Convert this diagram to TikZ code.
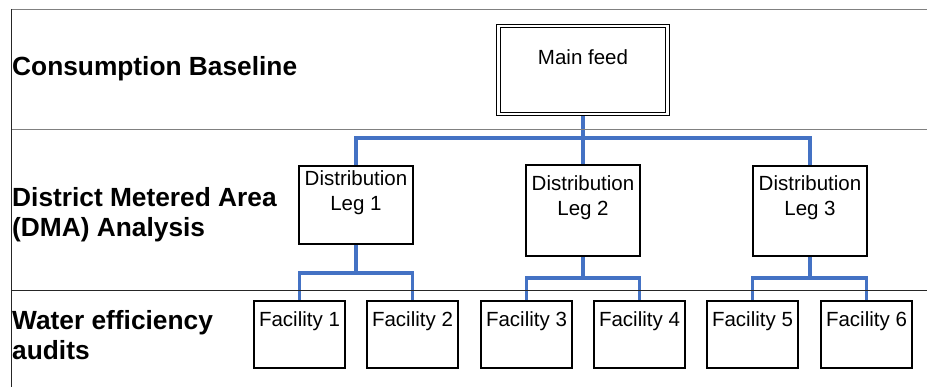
\documentclass[tikz,border=0pt]{standalone}
\usepackage{fontspec}
\setmainfont{Liberation Sans}
\usetikzlibrary{backgrounds}
\begin{document}
\begin{tikzpicture}[x=1pt,y=-1pt,
  box/.style={draw=black,line width=1.7pt,fill=white,inner sep=0pt,outer sep=0pt,anchor=north west},
  mainbox/.style={draw=black,line width=1.2pt,double=white,double distance=2.4pt,fill=white,inner sep=0pt,outer sep=0pt,anchor=north west},
  boxtext/.style={inner sep=0pt,align=center,font=\fontsize{20.5}{25}\selectfont},
  rowlabel/.style={inner sep=0pt,anchor=base west,align=left,font=\fontsize{26.3}{30.5}\selectfont\bfseries},
  rule/.style={line width=0.9pt},
  conn/.style={draw={rgb,255:red,68;green,114;blue,196},line width=3.3pt}
]
\useasboundingbox (0,0) rectangle (927,387);
% table rules
\coordinate (tl) at (11,9);
\coordinate (tr) at (927,9);
\coordinate (bl) at (11,387);
\coordinate (r1l) at (11,129);
\coordinate (r1r) at (927,129);
\coordinate (r2l) at (11,290);
\coordinate (r2r) at (927,290);
\draw[rule,draw=gray] (tl) -- (tr);
\draw[rule,draw=gray] (r1l) -- (r1r);
\draw[rule,draw=black!85] (r2l) -- (r2r);
\draw[rule,draw=black!85] (tl) -- (bl);

% row labels
\node[rowlabel] (lab1) at (12,76) {Consumption Baseline};
\node[rowlabel] (lab2) at (12,237) {District Metered Area\\(DMA) Analysis};
\node[rowlabel] (lab3) at (12,360) {Water efficiency\\audits};

% boxes
\node[mainbox,minimum width=169,minimum height=88] (main) at (498.5,26) {};
\node[box,minimum width=114,minimum height=78] (leg1) at (299,166) {};
\node[box,minimum width=114,minimum height=91] (leg2) at (526,165) {};
\node[box,minimum width=114,minimum height=90] (leg3) at (753,166) {};
\node[box,minimum width=91,minimum height=67] (f1) at (254,301) {};
\node[box,minimum width=91,minimum height=67] (f2) at (367,301) {};
\node[box,minimum width=91,minimum height=67] (f3) at (481,301) {};
\node[box,minimum width=91,minimum height=67] (f4) at (594,301) {};
\node[box,minimum width=91,minimum height=67] (f5) at (707,301) {};
\node[box,minimum width=91,minimum height=67] (f6) at (821,301) {};

% box texts
\node[boxtext] (tmain) at (583,57) {Main feed};
\node[boxtext] (tleg1) at (356,192.5) {Distribution\\Leg 1};
\node[boxtext] (tleg2) at (583,197.5) {Distribution\\Leg 2};
\node[boxtext] (tleg3) at (810,197.5) {Distribution\\Leg 3};
\node[boxtext] (tf1) at (299.5,321) {Facility 1};
\node[boxtext] (tf2) at (412.5,321) {Facility 2};
\node[boxtext] (tf3) at (526.5,321) {Facility 3};
\node[boxtext] (tf4) at (639.5,321) {Facility 4};
\node[boxtext] (tf5) at (752.5,321) {Facility 5};
\node[boxtext] (tf6) at (866.5,321) {Facility 6};

% connectors (behind the boxes)
\coordinate (bus0) at (583,138);
\coordinate (bus1) at (356,273);
\coordinate (bus2) at (583,278);
\coordinate (bus3) at (810,278);
\begin{scope}[on background layer]
\draw[conn] (main.south) -- (bus0) -| (leg1.north);
\draw[conn] (bus0) -| (leg3.north);
\draw[conn] (bus0) -- (leg2.north);
\draw[conn] (leg1.south) -- (bus1) -| (f1.north);
\draw[conn] (bus1) -| (f2.north);
\draw[conn] (leg2.south) -- (bus2) -| (f3.north);
\draw[conn] (bus2) -| (f4.north);
\draw[conn] (leg3.south) -- (bus3) -| (f5.north);
\draw[conn] (bus3) -| (f6.north);
\end{scope}
\end{tikzpicture}
\end{document}
